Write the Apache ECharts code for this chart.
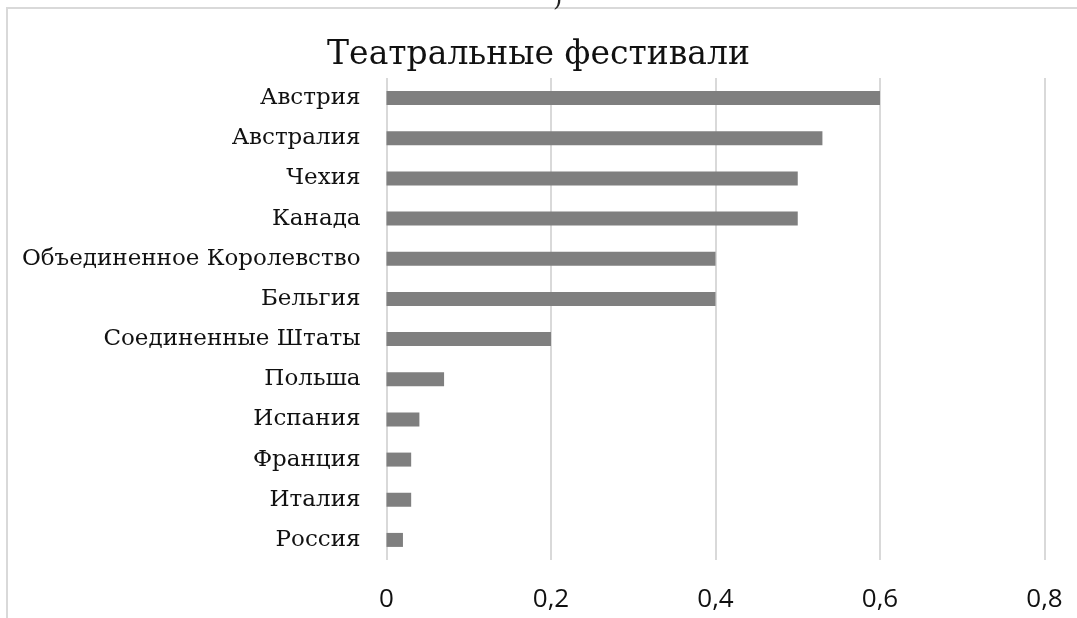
<!DOCTYPE html>
<html><head><meta charset="utf-8">
<script src="https://cdn.jsdelivr.net/npm/echarts@6/dist/echarts.min.js"></script>
<style>html,body{margin:0;padding:0;background:#fff}#c{width:1077px;height:618px}</style>
</head><body><div id="c"></div>
<script>
const titleText = 'Театральные фестивали';
const categories = ['Австрия','Австралия','Чехия','Канада','Объединенное Королевство','Бельгия','Соединенные Штаты','Польша','Испания','Франция','Италия','Россия'];
const values = [0.6,0.53,0.5,0.5,0.4,0.4,0.2,0.07,0.04,0.03,0.03,0.02];
const xTicks = [0,0.2,0.4,0.6,0.8];

const chart = echarts.init(document.getElementById('c'));
chart.setOption({
  animation:false,
  backgroundColor:'#fff',
  title:{text:titleText,left:'center',top:34,textStyle:{fontFamily:'DejaVu Serif',fontSize:33,fontWeight:'normal',color:'#111'}},
  graphic:[
    {type:'polyline',shape:{points:[[7,618],[7,8],[1077,8]]},style:{fill:null,stroke:'#d9d9d9',lineWidth:2},silent:true},
    {type:'text',x:553,y:-12,style:{text:')',font:'24px DejaVu Serif',fill:'#222'}}
  ],
  grid:{left:386.5,right:32.5,top:78,bottom:58,containLabel:false},
  xAxis:{type:'value',min:xTicks[0],max:xTicks[xTicks.length-1],interval:0.2,
    axisLine:{show:false},axisTick:{show:false},
    splitLine:{lineStyle:{color:'#d9d9d9',width:2}},
    axisLabel:{margin:27,fontFamily:'Open Sans',fontSize:26,color:'#111',formatter:v=>String(+v.toFixed(1)).replace('.',',')}},
  yAxis:{type:'category',data:categories,inverse:true,
    axisLine:{show:false},axisTick:{show:false},
    axisLabel:{margin:26,fontFamily:'DejaVu Serif',fontSize:23,color:'#111'}},
  series:[{type:'bar',data:values,barWidth:14,itemStyle:{color:'#7f7f7f'}}]
});
</script></body></html>
